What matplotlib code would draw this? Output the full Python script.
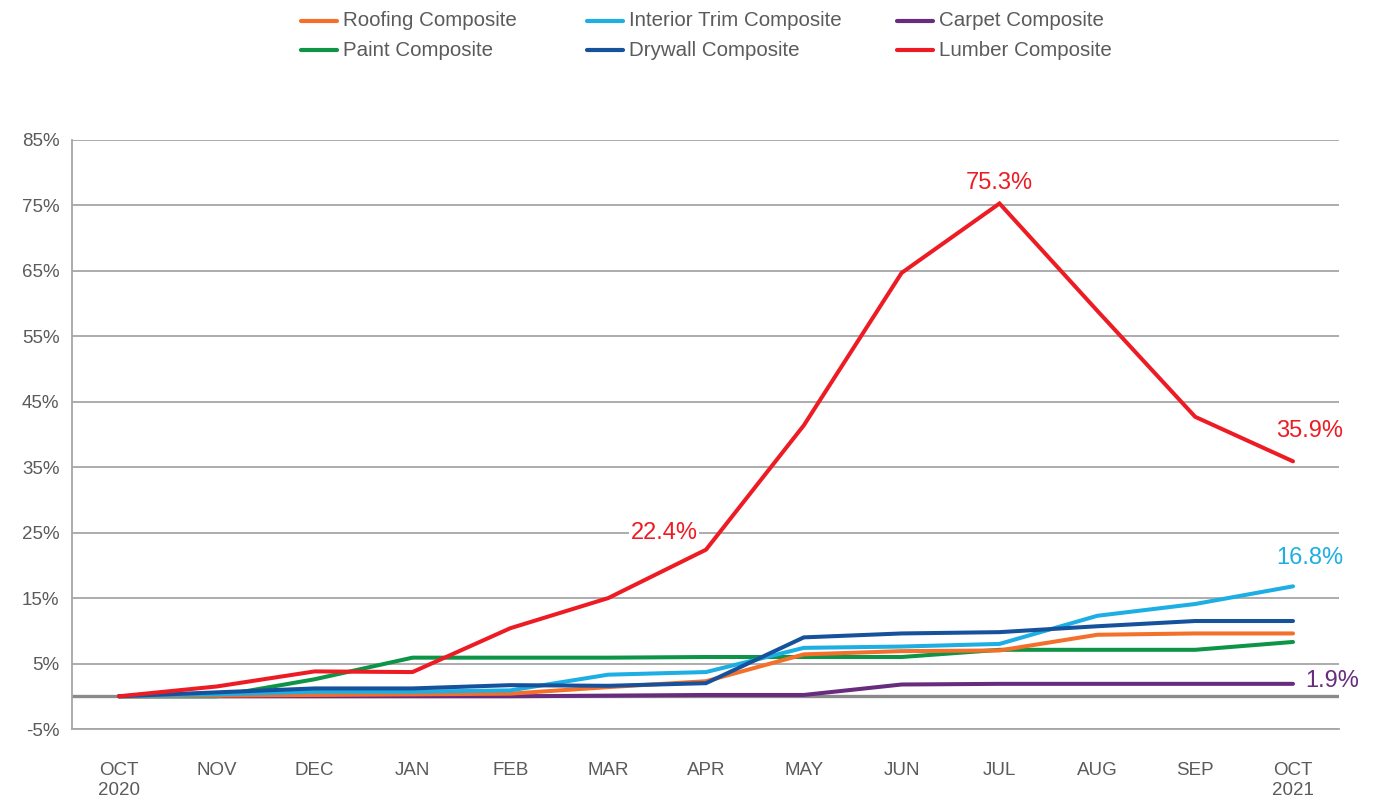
import matplotlib
matplotlib.use("Agg")
import matplotlib.pyplot as plt
from matplotlib.lines import Line2D

plt.rcParams['font.family'] = ['Liberation Sans', 'DejaVu Sans']

months = ["OCT\n2020", "NOV", "DEC", "JAN", "FEB", "MAR", "APR", "MAY",
          "JUN", "JUL", "AUG", "SEP", "OCT\n2021"]

series_names = ["Roofing Composite", "Paint Composite", "Interior Trim Composite",
                "Drywall Composite", "Carpet Composite", "Lumber Composite"]

roofing = [0, 0.1, 0.2, 0.3, 0.4, 1.4, 2.3, 6.4, 6.9, 7.0, 9.4, 9.6, 9.6]
paint = [0, 0, 2.6, 5.9, 5.9, 5.9, 6.0, 6.0, 6.0, 7.1, 7.1, 7.1, 8.3]
interior = [0, 0.3, 0.7, 0.7, 0.9, 3.3, 3.7, 7.4, 7.6, 8.0, 12.3, 14.1, 16.8]
drywall = [0, 0.6, 1.2, 1.2, 1.7, 1.6, 2.0, 9.0, 9.6, 9.8, 10.7, 11.5, 11.5]
carpet = [0, 0, 0, 0, 0, 0.1, 0.2, 0.2, 1.8, 1.9, 1.9, 1.9, 1.9]
lumber = [0, 1.5, 3.8, 3.7, 10.4, 15.0, 22.4, 41.4, 64.7, 75.3, 58.9, 42.7, 35.9]

yticks = [-5, 5, 15, 25, 35, 45, 55, 65, 75, 85]

colors = {
    "Roofing Composite": "#F36F2A",
    "Paint Composite": "#0E9446",
    "Interior Trim Composite": "#1DAEE4",
    "Drywall Composite": "#16529C",
    "Carpet Composite": "#682C7F",
    "Lumber Composite": "#ED1C24",
}
data = {
    "Roofing Composite": roofing,
    "Paint Composite": paint,
    "Interior Trim Composite": interior,
    "Drywall Composite": drywall,
    "Carpet Composite": carpet,
    "Lumber Composite": lumber,
}

TXT = "#5A5B5D"
GRID = "#A6A6A6"

W, H = 1375, 797
fig = plt.figure(figsize=(W / 100, H / 100), dpi=100)
ax = fig.add_axes([72 / W, 1 - 729 / H, (1339 - 72) / W, (729 - 140) / H])

x = list(range(len(months)))
ax.set_xlim(-0.48, 12.47)
ax.set_ylim(-5, 85)

for yv in yticks:
    ax.axhline(yv, color=GRID, lw=1.3, zorder=1)
ax.axhline(0, color="#8A8A8A", lw=2.4, zorder=1)

draw_order = ["Carpet Composite", "Paint Composite", "Roofing Composite",
              "Interior Trim Composite", "Drywall Composite", "Lumber Composite"]
for name in draw_order:
    ax.plot(x, data[name], color=colors[name], lw=2.9, zorder=3,
            solid_joinstyle="miter", solid_capstyle="round")

for s in ["top", "right"]:
    ax.spines[s].set_visible(False)
ax.spines["left"].set_color(GRID)
ax.spines["left"].set_linewidth(1.3)
ax.spines["bottom"].set_color(GRID)
ax.spines["bottom"].set_linewidth(1.3)

ax.set_yticks(yticks)
ax.set_yticklabels([f"{v}%" for v in yticks], fontsize=13.5, color=TXT)
ax.set_xticks(x)
ax.set_xticklabels(months, fontsize=13.5, color=TXT, linespacing=1.2)
ax.tick_params(axis="y", length=0, pad=9)
ax.tick_params(axis="x", length=0, pad=24)

# annotations
ann = [
    (9, lumber[9], "75.3%", colors["Lumber Composite"], (0, 20), False),
    (6, lumber[6], "22.4%", colors["Lumber Composite"], (-42, 17), True),
    (12, lumber[12], "35.9%", colors["Lumber Composite"], (17, 30), False),
    (12, interior[12], "16.8%", colors["Interior Trim Composite"], (17, 28), False),
    (12, carpet[12], "1.9%", colors["Carpet Composite"], (39, 3), False),
]
for xi, yi, label, c, off, box in ann:
    kw = {}
    if box:
        kw["bbox"] = dict(facecolor="white", edgecolor="none", pad=1)
    ax.annotate(label, (xi, yi), xytext=off, textcoords="offset pixels",
                ha="center", va="center", fontsize=17, color=c, zorder=5,
                annotation_clip=False, **kw)

# legend (manual, 3 columns x 2 rows)
col_x = [301, 587, 897]
row_y = [21, 50]
for i, name in enumerate(series_names):
    col, row = i // 2, i % 2
    hx, hy = col_x[col], row_y[row]
    fig.add_artist(Line2D([hx / W, (hx + 36) / W], [1 - hy / H, 1 - hy / H],
                          color=colors[name], lw=3, solid_capstyle="round",
                          transform=fig.transFigure))
    fig.text((hx + 42) / W, 1 - hy / H, name, fontsize=14.8, color=TXT,
             ha="left", va="center")

fig.savefig("out.png", dpi=100, facecolor="white")
